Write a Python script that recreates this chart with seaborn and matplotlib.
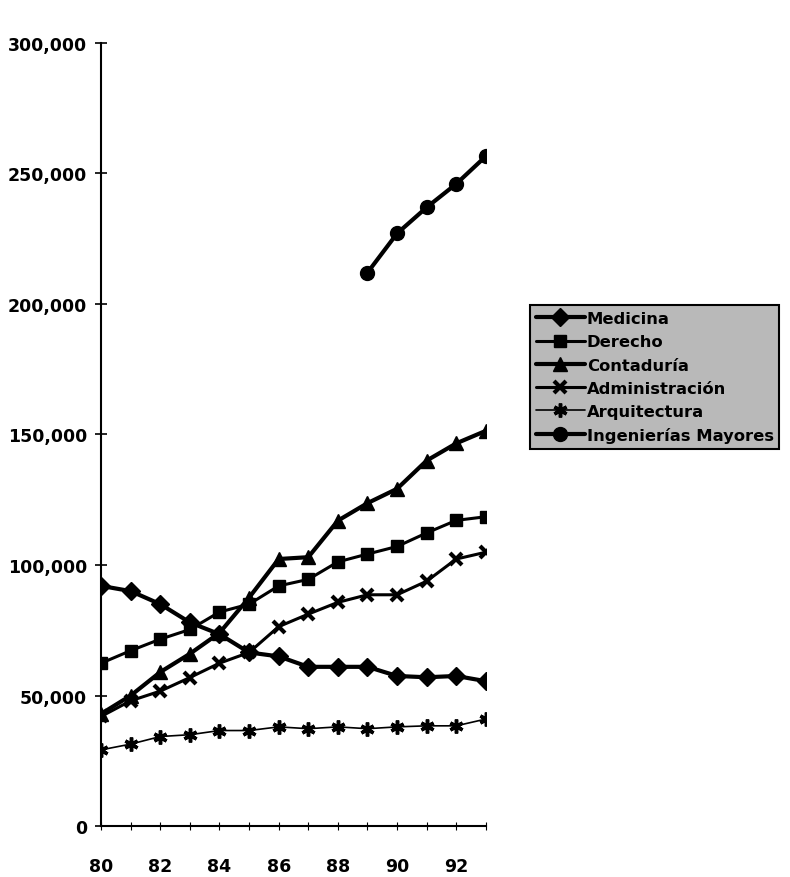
import seaborn as sns
import pandas as pd
import matplotlib.pyplot as plt
import numpy as np
from matplotlib.ticker import FuncFormatter

#-----------------------------------------------------------------------------------------------------------------------
"""Data read off the chart"""
years = list(range(80, 94))
medicina = [92000, 90000, 85000, 78000, 73500, 66500, 65000, 61000, 61000, 61000, 57500, 57000, 57500, 55500]
derecho = [62400, 67200, 71600, 75300, 82000, 85000, 92000, 94500, 101200, 104200, 107100, 112300, 117100, 118500]
contaduria = [43000, 50000, 59000, 66000, 74000, 87500, 102300, 103000, 117000, 123700, 129200, 140000, 146600, 151400]
administracion = [42000, 48000, 51700, 56900, 62400, 66500, 76400, 81200, 85700, 88600, 88600, 93800, 102300, 104900]
arquitectura = [29200, 31400, 34300, 35000, 36600, 36600, 38000, 37300, 38000, 37300, 38000, 38400, 38400, 41000]
ing_years = [89, 90, 91, 92, 93]
ingenierias = [212000, 227000, 237000, 246000, 256600]

names = ['Medicina', 'Derecho', 'Contaduría', 'Administración', 'Arquitectura', 'Ingenierías Mayores']
x_labels = ['80', '', '82', '', '84', '', '86', '', '88', '', '90', '', '92', '']

#Long dataframe for seaborn
frames = []
for name, vals in zip(names[:5], [medicina, derecho, contaduria, administracion, arquitectura]):
    frames.append(pd.DataFrame({'year': years, 'value': vals, 'carrera': name}))
frames.append(pd.DataFrame({'year': ing_years, 'value': ingenierias, 'carrera': names[5]}))
df = pd.concat(frames, ignore_index=True)

#-----------------------------------------------------------------------------------------------------------------------
"""Styles"""
MyFont = 'DejaVu Sans'
styles = {
    'Medicina': dict(marker='D', ms=9, lw=3.0, mew=1),
    'Derecho': dict(marker='s', ms=9, lw=2.2, mew=1),
    'Contaduría': dict(marker='^', ms=10, lw=3.0, mew=1),
    'Administración': dict(marker='x', ms=9, lw=2.2, mew=3),
    'Arquitectura': dict(marker=(6, 2, 0), ms=10, lw=1.2, mew=2.5),
    'Ingenierías Mayores': dict(marker='o', ms=10, lw=3.0, mew=1),
}

#-----------------------------------------------------------------------------------------------------------------------
"""Creating the Figure"""
sns.set_style('white')
plt.rcParams['font.family'] = [MyFont]
fig = plt.figure(figsize=(7.9, 8.78), dpi=100)
ax1 = fig.add_axes([0.128, 0.058, 0.487, 0.892])

for name in names:
    st = styles[name]
    sns.lineplot(data=df[df['carrera'] == name], x='year', y='value', ax=ax1, color='black',
                 linewidth=st['lw'], marker=st['marker'], markersize=st['ms'],
                 markeredgewidth=st['mew'], markeredgecolor='black', label=name)

#-----------------------------------------------------------------------------------------------------------------------
"""Axes"""
ax1.set_xlim(80, 93)
ax1.set_ylim(0, 300000)
ax1.set_xticks(years)
ax1.set_xticklabels(x_labels)
ax1.set_yticks(np.arange(0, 300001, 50000))
ax1.yaxis.set_major_formatter(FuncFormatter(lambda v, p: f'{int(v):,}'))
ax1.set_xlabel('')
ax1.set_ylabel('')

ax1.spines['top'].set_visible(False)
ax1.spines['right'].set_visible(False)
ax1.spines['left'].set_color('black')
ax1.spines['bottom'].set_color('black')
ax1.spines['left'].set_linewidth(1.5)
ax1.spines['bottom'].set_linewidth(1.5)
ax1.tick_params(axis='y', direction='inout', length=8, width=1.2, colors='black', left=True, pad=6)
ax1.tick_params(axis='x', direction='inout', length=6, width=0.8, colors='black', bottom=True, pad=19)
for label in ax1.get_xticklabels() + ax1.get_yticklabels():
    label.set_fontweight('bold')
    label.set_fontsize(12.5)

#-----------------------------------------------------------------------------------------------------------------------
"""Legend"""
ax1.get_legend().remove()
handles, labels = ax1.get_legend_handles_labels()
leg = fig.legend(handles, labels, loc='upper left', bbox_to_anchor=(0.671, 0.651),
                 frameon=True, fancybox=False, facecolor='#b9b9b9', edgecolor='black',
                 prop={'weight': 'bold', 'size': 11.8}, handlelength=3.0, handletextpad=0.1,
                 labelspacing=0.5, borderpad=0.35, borderaxespad=0)
leg.get_frame().set_linewidth(1.5)
leg.get_frame().set_alpha(1)
for text in leg.get_texts():
    text.set_color('black')

fig.savefig('out.png', dpi=100, facecolor='white')
